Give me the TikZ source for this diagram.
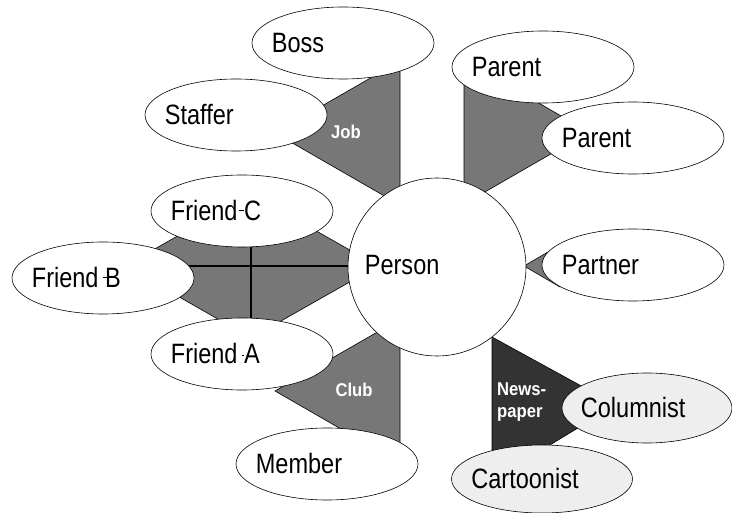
\documentclass[tikz,border=0pt]{standalone}
\usepackage{fontspec}
\usetikzlibrary{shapes.geometric,calc}
\newfontfamily\elf[FakeStretch=0.84]{Liberation Sans}
\newfontfamily\lbf[FakeStretch=0.9]{Liberation Sans}
\definecolor{relgray}{HTML}{777777}
\definecolor{reldark}{HTML}{333333}
\definecolor{lightent}{HTML}{EEEEEE}
\newcommand{\markrule}[2]{\rule[0.36em]{#1}{#2}}
\begin{document}
\begin{tikzpicture}[x=1pt,y=-1pt,
  ent/.style={ellipse, draw, fill=white, line width=0.6pt, minimum width=182pt, minimum height=72pt, inner sep=0pt},
  ent2/.style={ent, fill=lightent},
  etxt/.style={anchor=base west, inner sep=0pt, font=\elf\fontsize{28}{32}\selectfont},
  rel/.style={draw, line width=0.6pt, fill=relgray, line join=miter},
  rlab/.style={font=\lbf\bfseries\fontsize{18.5}{22}\selectfont, text=white, align=left, inner sep=0pt}]
\useasboundingbox (0,0) rectangle (732,513);

% relationship shapes
\draw[rel] (275,133) -- (400,61) -- (400,205) -- cycle;
\draw[rel] (464,60) -- (464,204) -- (589,132) -- cycle;
\draw[rel] (524,266) -- (560,245) -- (560,287) -- cycle;
\draw[rel] (125,266) -- (251,194) -- (378,266) -- (251,338) -- cycle;
\draw[line width=1.5pt] (125,266) -- (378,266) (251,194) -- (251,338);
\draw[rel] (275,391) -- (400,319) -- (400,463) -- cycle;
\draw[rel, fill=reldark] (492,337) -- (616,405) -- (492,480) -- cycle;

% labels
\node[rlab] (joblab) at (346,132) {Job};
\node[rlab] (clublab) at (354,390) {Club};
\node[rlab, anchor=north west] (newslab) at (497,383) {News-\\paper};

% central entity
\node[circle, draw, fill=white, minimum size=178pt, inner sep=0pt, line width=0.6pt] (person) at (437,267) {};
\node[etxt] (personT) at ($(person.west)+(17,8)$) {Person};

% entities
\node[ent] (boss) at (343,43) {};
\node[ent] (staffer) at (236,115) {};
\node[ent] (parentA) at (543,67) {};
\node[ent] (parentB) at (633,138) {};
\node[ent] (partner) at (633,265) {};
\node[ent] (friendC) at (242,211) {};
\node[ent] (friendB) at (103,278) {};
\node[ent] (friendA) at (242,354) {};
\node[ent] (member) at (327,464) {};
\node[ent2, minimum width=170pt, minimum height=70pt] (columnist) at (647,408) {};
\node[ent2, minimum width=181pt, minimum height=68pt] (cartoonist) at (542,479) {};

\node[etxt] (bossT) at ($(boss.west)+(20,10)$) {Boss};
\node[etxt] (stafferT) at ($(staffer.west)+(20,10)$) {Staffer};
\node[etxt] (parentAT) at ($(parentA.west)+(20,10)$) {Parent};
\node[etxt] (parentBT) at ($(parentB.west)+(20,10)$) {Parent};
\node[etxt] (partnerT) at ($(partner.west)+(20,10)$) {Partner};
\node[etxt] (friendCT) at ($(friendC.west)+(20,10)$) {Friend \llap{\markrule{0.2em}{0.7pt}}C};
\node[etxt] (friendBT) at ($(friendB.west)+(20,10)$) {Friend \rlap{\kern-0.07em\markrule{0.28em}{0.7pt}}B};
\node[etxt] (friendAT) at ($(friendA.west)+(20,10)$) {Friend \llap{\rule[0.3em]{0.09em}{0.9pt}}A};
\node[etxt] (memberT) at ($(member.west)+(20,10)$) {Member};
\node[etxt] (columnistT) at ($(columnist.west)+(19,10)$) {Columnist};
\node[etxt] (cartoonistT) at ($(cartoonist.west)+(20,10)$) {Cartoonist};
\end{tikzpicture}
\end{document}
